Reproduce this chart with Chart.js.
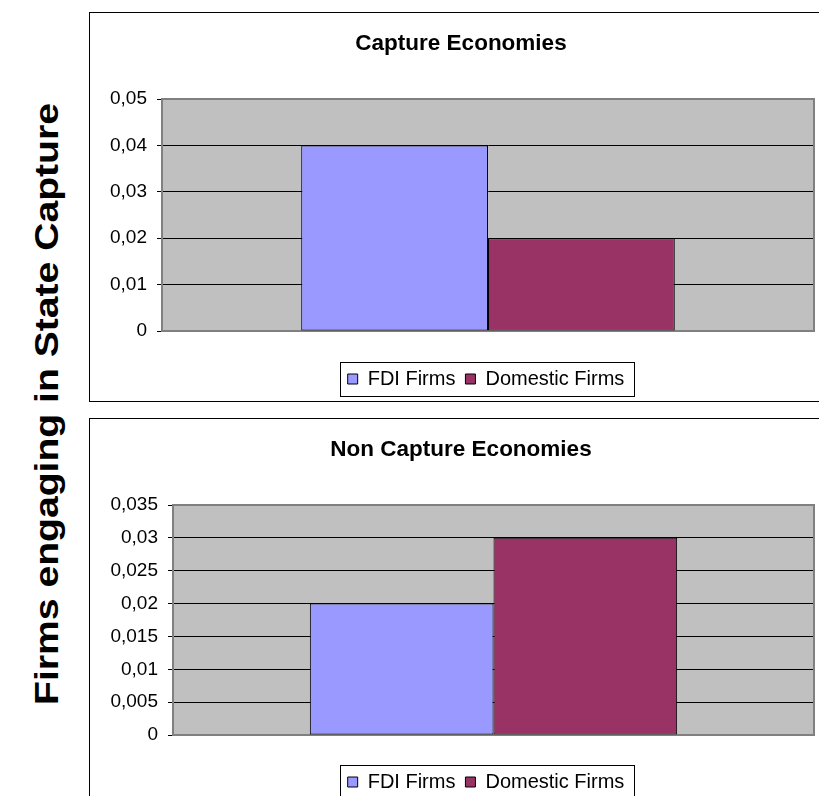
<!DOCTYPE html>
<html>
<head>
<meta charset="utf-8">
<script src="https://cdn.jsdelivr.net/npm/chart.js@4/dist/chart.umd.min.js"></script>
<style>
  html, body { margin: 0; padding: 0; width: 819px; height: 796px; overflow: hidden; background: #fff; }
  .frame { position: absolute; border: 1px solid #000; box-sizing: border-box; background: #fff; }
  .frame canvas { position: absolute; left: 0; top: 0; }
  #sideLabel {
    position: absolute; left: 46px; top: 404px;
    transform: translate(-50%, -50%) rotate(-90deg) scaleX(1.15);
    white-space: nowrap; font: bold 34px 'Liberation Sans', Arial, sans-serif; color: #000;
  }
</style>
</head>
<body>
<div id="sideLabel">Firms engaging in State Capture</div>
<div class="frame" style="left:89px; top:12px; width:760px; height:390px;">
  <div style="position:absolute; left:0; top:0; width:740px; height:386px;"><canvas id="chartTop"></canvas></div>
</div>
<div class="frame" style="left:89px; top:418px; width:760px; height:420px;">
  <div style="position:absolute; left:0; top:0; width:740px; height:383px;"><canvas id="chartBottom"></canvas></div>
</div>
<script>
// Data
const categories = [''];
const seriesNames = ['FDI Firms', 'Domestic Firms'];
const seriesColors = ['#9999FF', '#993366'];

const captureTitle = 'Capture Economies';
const captureFDI = [0.04];
const captureDomestic = [0.02];
const captureTicks = [0, 0.01, 0.02, 0.03, 0.04, 0.05];

const nonCaptureTitle = 'Non Capture Economies';
const nonCaptureFDI = [0.02];
const nonCaptureDomestic = [0.03];
const nonCaptureTicks = [0, 0.005, 0.01, 0.015, 0.02, 0.025, 0.03, 0.035];

const FONT = "'Liberation Sans', Arial, sans-serif";

// Decimal comma tick labels
function fmt(v) {
  return String(Number(v.toFixed(4))).replace('.', ',');
}

// Grey plot background, grey frame, boxed legend, and horizontal nudges
// for the title and legend blocks
const plotDecor = {
  id: 'plotDecor',
  afterLayout(chart, args, opts) {
    const t = chart.titleBlock, lg = chart.legend;
    if (t && opts.titleShift) { t.left += opts.titleShift; t.right += opts.titleShift; }
    if (lg && opts.legendShift) { lg.left += opts.legendShift; lg.right += opts.legendShift; }
  },
  beforeDraw(chart) {
    const { ctx, chartArea: a } = chart;
    ctx.save();
    ctx.fillStyle = '#C0C0C0';
    ctx.fillRect(a.left, a.top, a.right - a.left, a.bottom - a.top);
    ctx.restore();
  },
  beforeDatasetsDraw(chart) {
    const { ctx, chartArea: a } = chart;
    ctx.save();
    ctx.strokeStyle = '#808080';
    ctx.lineWidth = 2;
    ctx.strokeRect(a.left, a.top, a.right - a.left, a.bottom - a.top);
    ctx.restore();
  },
  afterDraw(chart) {
    const lg = chart.legend;
    if (!lg || !lg.legendHitBoxes || !lg.legendHitBoxes.length) return;
    const hb = lg.legendHitBoxes;
    const left = Math.min(...hb.map(b => b.left)) - 8;
    const right = Math.max(...hb.map(b => b.left + b.width)) + 9;
    const cy = hb[0].top + hb[0].height / 2;
    const { ctx } = chart;
    ctx.save();
    ctx.strokeStyle = '#000';
    ctx.lineWidth = 1;
    ctx.strokeRect(Math.round(left) + 0.5, Math.round(cy - 17) + 0.5, Math.round(right - left), 34);
    ctx.restore();
  }
};

function makeChart(id, title, fdi, dom, ticks, axisWidth, axisGap) {
  const tmin = ticks[0], tmax = ticks[ticks.length - 1];
  return new Chart(document.getElementById(id), {
    type: 'bar',
    data: {
      labels: categories,
      datasets: [
        { label: seriesNames[0], data: fdi, backgroundColor: seriesColors[0], borderColor: '#000', borderWidth: 1, borderSkipped: false },
        { label: seriesNames[1], data: dom, backgroundColor: seriesColors[1], borderColor: '#000', borderWidth: 1, borderSkipped: false }
      ]
    },
    options: {
      responsive: true,
      maintainAspectRatio: false,
      animation: false,
      devicePixelRatio: 1,
      layout: { padding: { left: 0, right: 16, top: 0, bottom: 0 } },
      datasets: { bar: { categoryPercentage: 0.573, barPercentage: 1 } },
      plugins: {
        plotDecor: { titleShift: 9, legendShift: 34 },
        title: {
          display: true, text: title, color: '#000',
          font: { family: FONT, size: 22.5, weight: 'bold' },
          padding: { top: 17, bottom: 42 }
        },
        legend: {
          position: 'bottom',
          labels: {
            color: '#000', font: { family: FONT, size: 20 },
            boxWidth: 10, boxHeight: 10, padding: 10
          }
        },
        tooltip: { enabled: false }
      },
      scales: {
        x: {
          ticks: { display: false },
          grid: { display: false },
          border: { display: true, color: '#808080' },
          afterFit(s) { s.height = axisGap; }
        },
        y: {
          min: tmin, max: tmax,
          afterFit(s) { s.width = axisWidth; },
          afterBuildTicks(s) { s.ticks = ticks.map(v => ({ value: v })); },
          ticks: {
            color: '#000', font: { family: FONT, size: 19 }, padding: 10,
            callback: v => fmt(v)
          },
          grid: {
            color: '#000', tickColor: '#000', tickLength: 5, lineWidth: 1
          },
          border: { display: true, color: '#808080' }
        }
      }
    },
    plugins: [plotDecor]
  });
}

makeChart('chartTop', captureTitle, captureFDI, captureDomestic, captureTicks, 72, 28);
makeChart('chartBottom', nonCaptureTitle, nonCaptureFDI, nonCaptureDomestic, nonCaptureTicks, 83, 27);
</script>
</body>
</html>
